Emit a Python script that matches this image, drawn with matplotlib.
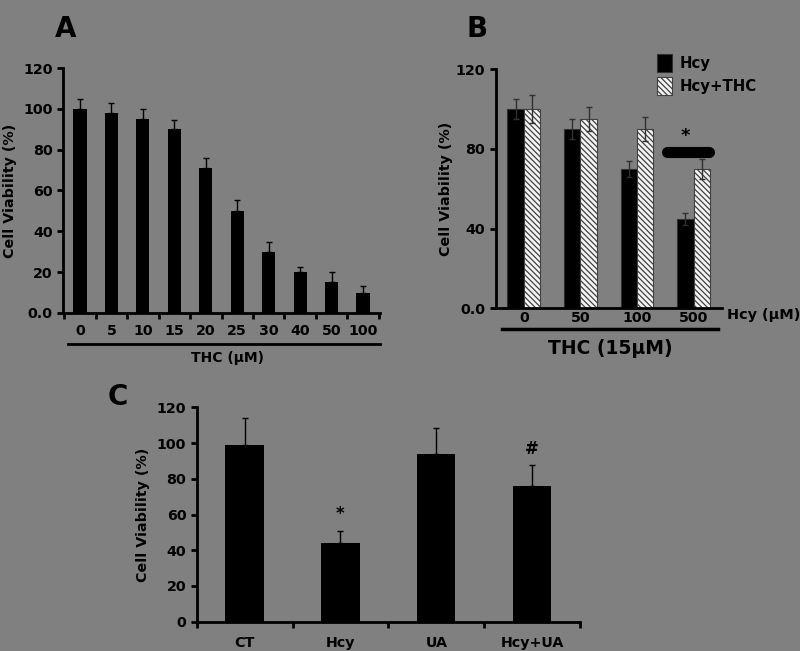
import matplotlib
matplotlib.use("Agg")
import matplotlib.pyplot as plt
import numpy as np

# === Data ===
thc_doses = ["0", "5", "10", "15", "20", "25", "30", "40", "50", "100"]
viab_a = [100, 98, 95, 90, 71, 50, 30, 20, 15, 10]
err_a = [5, 5, 5, 4.5, 5, 5.5, 5, 2.5, 5, 3]

hcy_doses = ["0", "50", "100", "500"]
viab_hcy = [100, 90, 70, 45]
err_hcy = [5, 5, 4, 3]
viab_hcy_thc = [100, 95, 90, 70]
err_hcy_thc = [7, 6, 6, 5]

groups_c = ["CT", "Hcy", "UA", "Hcy+UA"]
viab_c = [99, 44, 94, 76]
err_c = [15, 7, 14.5, 11.5]
marks_c = ["", "*", "", "#"]

BG = "#808080"
FS = 10.3
plt.rcParams["font.family"] = ["DejaVu Sans"]
plt.rcParams["font.weight"] = "bold"
plt.rcParams["hatch.color"] = "#404040"
plt.rcParams["hatch.linewidth"] = 0.9

W, H = 800, 651
fig = plt.figure(figsize=(W / 100, H / 100), dpi=100, facecolor=BG)


def px_axes(left, right, bottom, top):
    return fig.add_axes([left / W, 1 - bottom / H, (right - left) / W, (bottom - top) / H])


def style(ax, ylabel_x):
    ax.set_facecolor("none")
    for s in ["top", "right"]:
        ax.spines[s].set_visible(False)
    for s in ["left", "bottom"]:
        ax.spines[s].set_linewidth(2)
    ax.tick_params(axis="y", direction="out", length=4, width=2, labelsize=FS)
    ax.tick_params(axis="x", which="major", length=0, labelsize=FS)
    ax.tick_params(axis="x", which="minor", direction="out", length=4, width=2)
    for lbl in ax.get_xticklabels() + ax.get_yticklabels():
        lbl.set_fontweight("bold")
    ax.set_ylabel("Cell Viability (%)", fontsize=FS, fontweight="bold")
    ax.yaxis.set_label_coords(ylabel_x, 0.5)


err_style = dict(ecolor="black", elinewidth=1, capsize=2.5, capthick=1)

# === Panel A ===
axA = px_axes(63, 380, 313, 68)
xa = np.arange(len(thc_doses))
axA.bar(xa, viab_a, width=0.42, color="black", yerr=[np.zeros(len(err_a)), err_a], error_kw=err_style)
axA.set_xlim(-0.54, len(thc_doses) - 0.46)
axA.set_ylim(0, 120)
axA.set_yticks([0, 20, 40, 60, 80, 100, 120])
axA.set_yticklabels(["0.0", "20", "40", "60", "80", "100", "120"])
axA.set_xticks(xa)
axA.set_xticklabels(thc_doses)
axA.set_xticks(np.arange(len(thc_doses) + 1) - 0.5, minor=True)
style(axA, -0.146)
axA.tick_params(axis="x", which="major", pad=8)
fig.add_artist(plt.Line2D([68 / W, 380 / W], [1 - 343.5 / H] * 2, color="black", lw=2))
fig.text(228 / W, 1 - 358 / H, "THC (µM)", ha="center", va="center", fontsize=10, fontweight="bold")
fig.text(66 / W, 1 - 29 / H, "A", ha="center", va="center", fontsize=20, fontweight="bold")

# === Panel B ===
axB = px_axes(495.5, 722, 308.3, 69)
xb = np.arange(len(hcy_doses))
bw = 0.29
axB.bar(xb - bw / 2, viab_hcy, width=bw, color="black", edgecolor="#303030", lw=0.8,
        yerr=err_hcy, error_kw=dict(err_style, ecolor="#303030"), label="Hcy")
axB.bar(xb + bw / 2, viab_hcy_thc, width=bw, color="#f4f4f4", edgecolor="#404040", lw=0.8,
        hatch="\\\\\\\\\\\\", yerr=err_hcy_thc, error_kw=dict(err_style, ecolor="#303030"),
        label="Hcy+THC")
axB.set_xlim(-0.5, 3.5)
axB.set_ylim(0, 120)
axB.set_yticks([0, 40, 80, 120])
axB.set_yticklabels(["0.0", "40", "80", "120"])
axB.set_xticks(xb)
axB.set_xticklabels(hcy_doses)
style(axB, -0.188)
axB.tick_params(axis="x", which="major", pad=2)
# significance bar over the 500 group
axB.plot([2.52, 3.27], [78.5, 78.5], color="black", lw=8, solid_capstyle="round", clip_on=False)
axB.text(2.86, 86.5, "*", ha="center", va="center", fontsize=13, fontweight="bold")
leg = axB.legend(loc="upper left", bbox_to_anchor=(657 / W, 1 - 54 / H), bbox_transform=fig.transFigure,
                 frameon=False, fontsize=10.7, handlelength=1.0, handleheight=1.5, handletextpad=0.55,
                 labelspacing=0.35, borderaxespad=0, borderpad=0)
for t in leg.get_texts():
    t.set_fontweight("bold")
fig.add_artist(plt.Line2D([501.7 / W, 717.7 / W], [1 - 329 / H] * 2, color="black", lw=2.5))
fig.text(727 / W, 1 - 315 / H, "Hcy (µM)", ha="left", va="center", fontsize=10.4, fontweight="bold")
fig.text(610 / W, 1 - 348 / H, "THC (15µM)", ha="center", va="center", fontsize=13.5, fontweight="bold")
fig.text(477 / W, 1 - 29 / H, "B", ha="center", va="center", fontsize=20, fontweight="bold")

# === Panel C ===
axC = px_axes(196.7, 580, 621.7, 407.3)
xc = np.arange(len(groups_c))
axC.bar(xc, viab_c, width=0.4, color="black", yerr=[np.zeros(len(err_c)), err_c], error_kw=err_style)
for x, v, e, m in zip(xc, viab_c, err_c, marks_c):
    if m:
        axC.text(x, v + e + 9, m, ha="center", va="center", fontsize=12, fontweight="bold")
axC.set_xlim(-0.5, 3.5)
axC.set_ylim(0, 120)
axC.set_yticks([0, 20, 40, 60, 80, 100, 120])
axC.set_xticks(xc)
axC.set_xticklabels(groups_c)
axC.set_xticks(np.arange(len(groups_c) + 1) - 0.5, minor=True)
style(axC, -0.122)
axC.tick_params(axis="x", which="major", pad=10)
fig.text(118 / W, 1 - 397 / H, "C", ha="center", va="center", fontsize=20, fontweight="bold")

fig.savefig("out.png", dpi=100, facecolor=BG)
